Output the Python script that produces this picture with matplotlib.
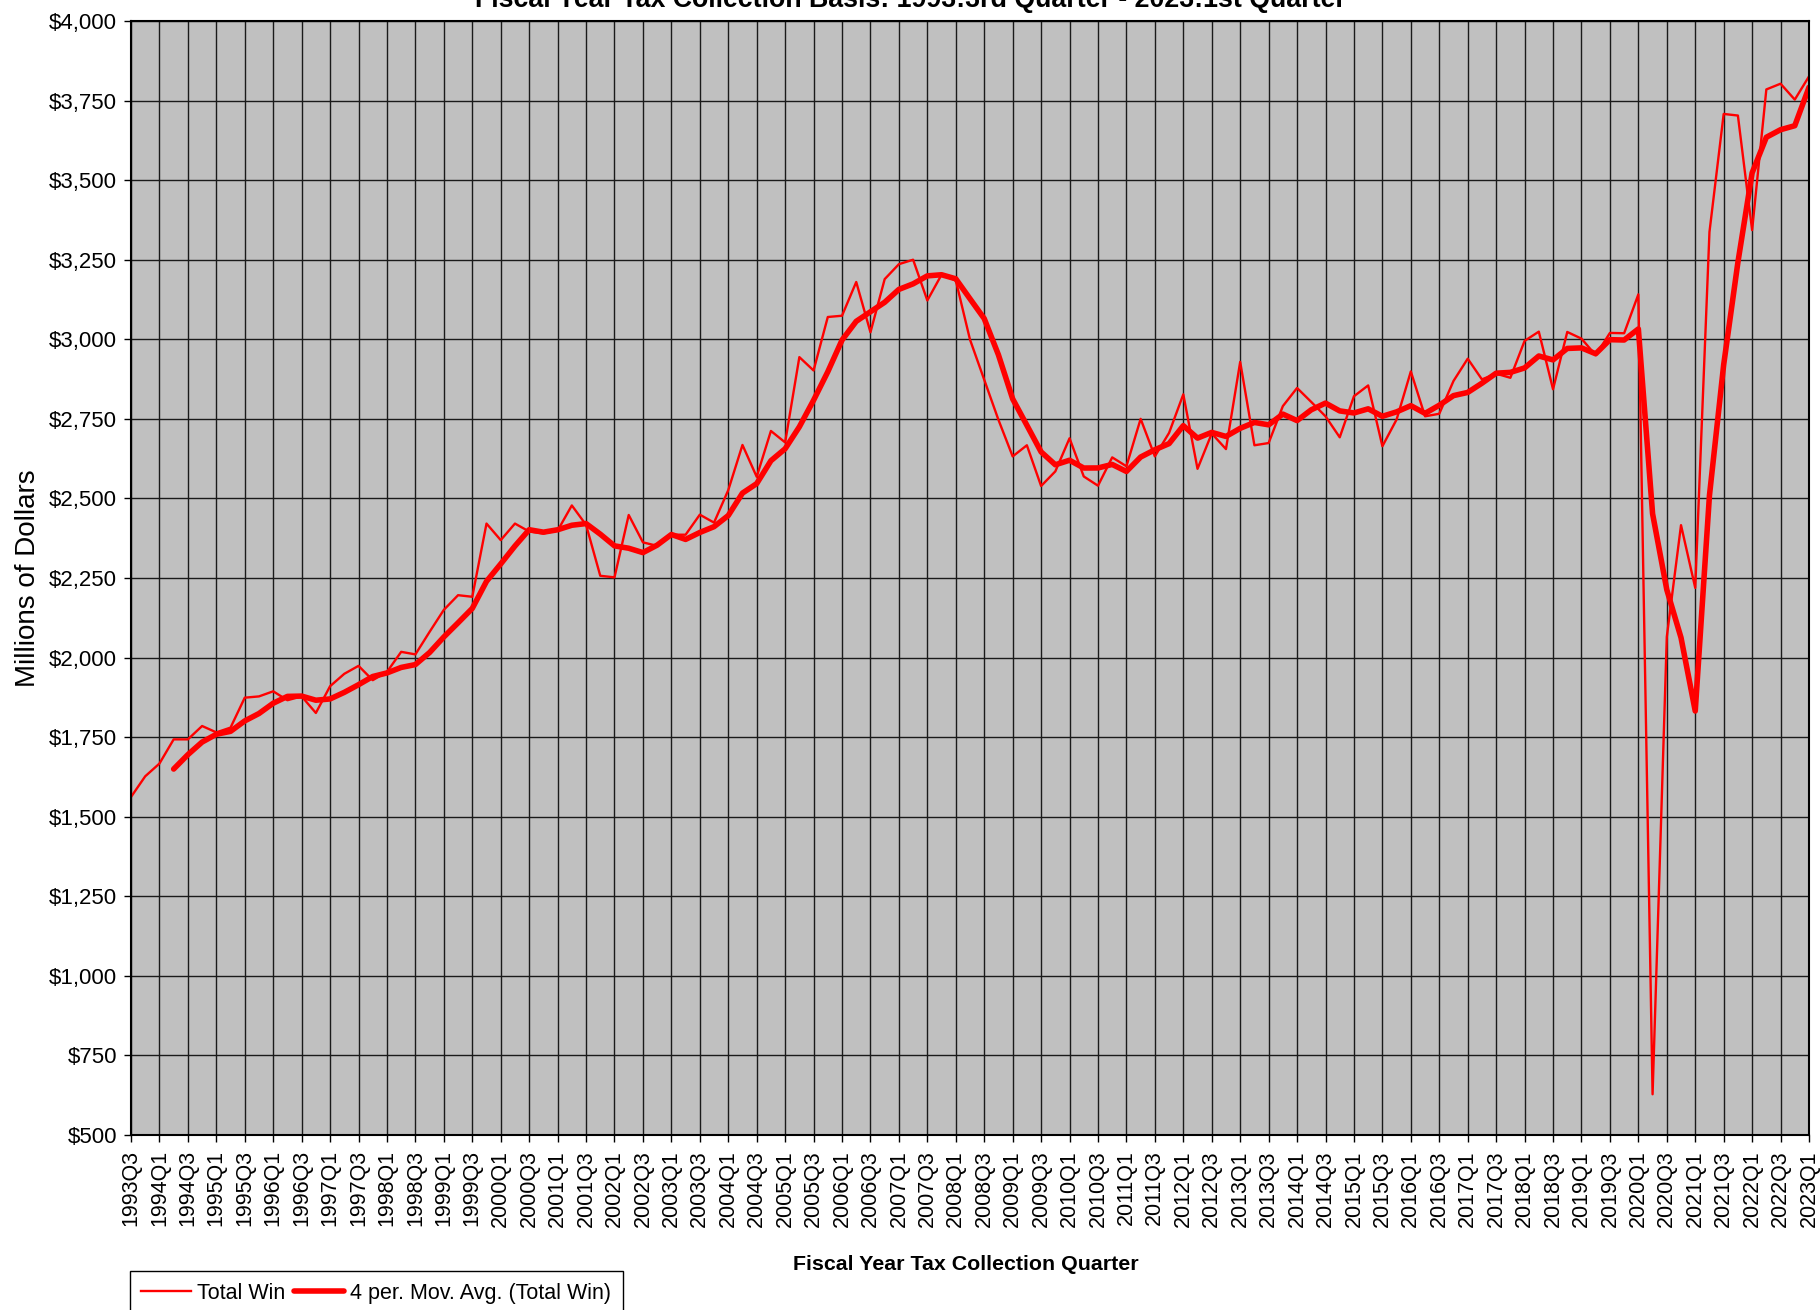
import matplotlib.pyplot as plt
import numpy as np
import pandas as pd
from matplotlib.ticker import FuncFormatter

plt.rcParams['font.family'] = ['Liberation Sans', 'DejaVu Sans']

# total win by fiscal quarter, millions of dollars (1993Q3 .. 2023Q1)
total_win = [
    1562, 1627, 1667, 1743, 1743, 1785, 1765, 1780, 1874, 1878,
    1894, 1866, 1878, 1826, 1910, 1949, 1974, 1929, 1955, 2018,
    2010, 2081, 2150, 2196, 2191, 2421, 2369, 2421, 2396, 2390,
    2399, 2478, 2417, 2257, 2252, 2448, 2362, 2351, 2386, 2386,
    2449, 2424, 2526, 2668, 2568, 2712, 2676, 2944, 2902, 3070,
    3074, 3180, 3022, 3189, 3236, 3250, 3122, 3203, 3185, 2999,
    2873, 2747, 2632, 2667, 2539, 2585, 2689, 2569, 2540, 2629,
    2601, 2750, 2632, 2706, 2827, 2593, 2704, 2655, 2929, 2667,
    2674, 2790, 2847, 2803, 2758, 2692, 2821, 2855, 2664, 2748,
    2899, 2758, 2766, 2869, 2939, 2874, 2892, 2879, 2995, 3024,
    2843, 3023, 3002, 2950, 3020, 3019, 3141, 628, 2065, 2416,
    2219, 3337, 3708, 3703, 3343, 3785, 3803, 3753, 3826,
]

start_year = 1993
start_quarter = 3
quarters = []
for k in range(len(total_win)):
    n = start_quarter - 1 + k
    quarters.append(f"{start_year + n // 4}Q{n % 4 + 1}")

y_ticks = list(range(500, 4001, 250))

# excel style 4 period moving average trendline
mov_avg = pd.Series(total_win).rolling(4).mean()

fig = plt.figure(figsize=(18.2, 13.1), dpi=100)
ax = fig.add_axes([131 / 1820, 1 - 1135 / 1310, 1678 / 1820, 1114 / 1310])
ax.set_facecolor('#c0c0c0')

x = np.arange(len(total_win))
ax.plot(x, total_win, color='#ff0000', lw=1.7, label='Total Win')
ax.plot(x, mov_avg, color='#ff0000', lw=4.0, solid_capstyle='round',
        solid_joinstyle='round', label='4 per. Mov. Avg. (Total Win)')

ax.set_xlim(0, len(x) - 1)
ax.set_ylim(500, 4000)
ax.set_yticks(y_ticks)
ax.yaxis.set_major_formatter(FuncFormatter(lambda v, p: f"${v:,.0f}"))
ax.set_xticks(x[::2])
ax.set_xticklabels(quarters[::2], rotation=90)
ax.grid(True, color='#1a1a1a', lw=1.0)
ax.set_axisbelow(True)
ax.tick_params(axis='both', direction='out', length=5, width=1,
               color='black', labelsize=15.5, pad=6)
ax.tick_params(axis='y', labelsize=16, pad=5)
for s in ax.spines.values():
    s.set_color('black')
    s.set_linewidth(1.5)

# the title sits partly above the top edge, as in the source image
fig.text(0.5, 1 - 7 / 1310,
         "Fiscal Year Tax Collection Basis: 1993:3rd Quarter - 2023:1st Quarter",
         ha='center', va='baseline', fontsize=19.3, fontweight='bold')
fig.text(966 / 1820, 1 - 1265 / 1310, "Fiscal Year Tax Collection Quarter",
         ha='center', va='center', fontsize=15.4, fontweight='bold')
fig.text(28 / 1820, 1 - 578 / 1310, "Millions of Dollars",
         rotation=90, ha='center', va='center', fontsize=20)

leg = fig.legend(loc='upper left', bbox_to_anchor=(129.6 / 1820, 1 - 1271 / 1310),
                 ncol=2, fontsize=15.5, frameon=True, fancybox=False,
                 edgecolor='black', framealpha=1, handlelength=2.3,
                 handletextpad=0.3, columnspacing=0.4, borderpad=0.55,
                 borderaxespad=0)
leg.get_frame().set_linewidth(1.0)

plt.savefig('out.png', dpi=100)
plt.close()
